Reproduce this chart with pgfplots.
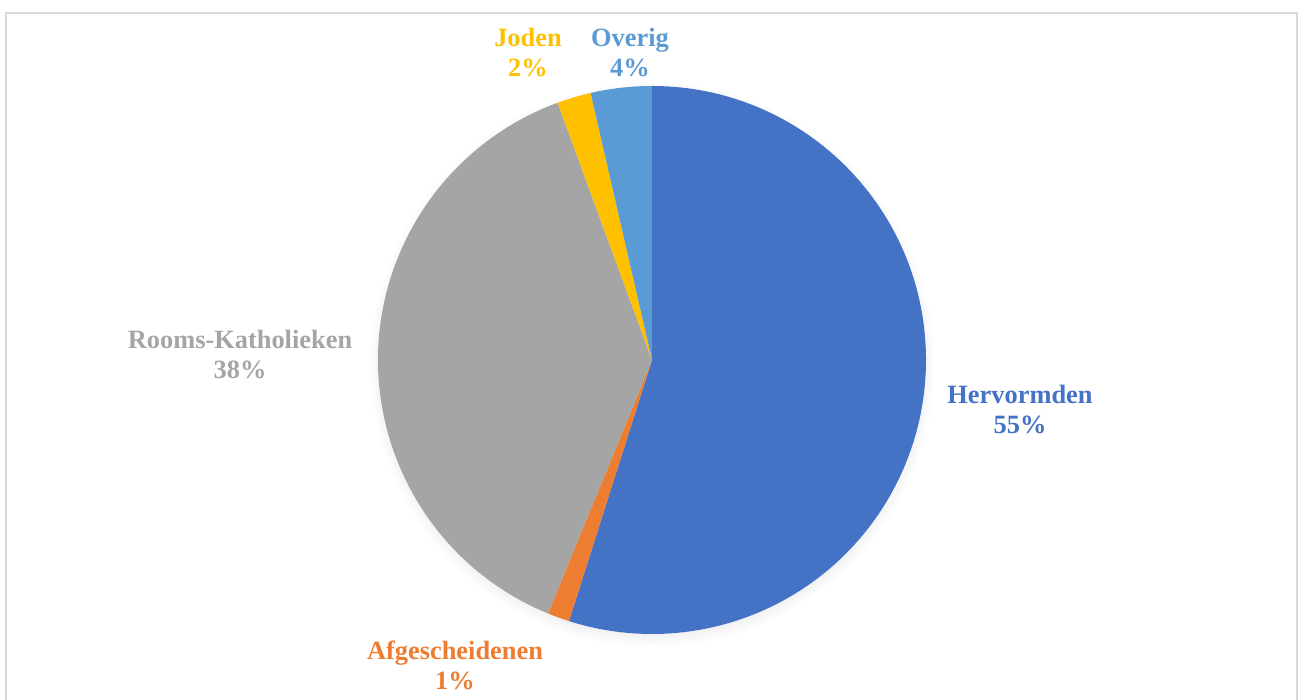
\documentclass[border=0pt]{standalone}
\usepackage{pgfplots}
\pgfplotsset{compat=1.18}
\usepackage{pgfplotstable}
\usepackage{fontspec}
\setmainfont{Liberation Serif}
\usetikzlibrary{shadows}
\definecolor{cHerv}{HTML}{4472C4}
\definecolor{cAfg}{HTML}{ED7D31}
\definecolor{cRK}{HTML}{A5A5A5}
\definecolor{cJod}{HTML}{FFC000}
\definecolor{cOv}{HTML}{5B9BD5}
\definecolor{frameGray}{HTML}{D9D9D9}

% share in percent, clockwise from 12 o'clock; label centre in pixel units
\pgfplotstableread[col sep=comma]{
name,value,color,lx,ly
Hervormden,54.9,cHerv,1020,290
Afgescheidenen,1.3,cAfg,455,35
Rooms-Katholieken,38.2,cRK,240,345
Joden,2.0,cJod,528,647
Overig,3.6,cOv,630,647
}\piedata

\begin{document}
\begin{tikzpicture}
    % slice angles and labels, computed once from the table
    \def\cum{0}
    \pgfplotsforeachungrouped \i in {0,...,4} {%
        \pgfplotstablegetelem{\i}{value}\of\piedata \let\v\pgfplotsretval
        \pgfmathsetmacro\sa{90-3.6*\cum}%
        \pgfmathsetmacro\ea{90-3.6*(\cum+\v)}%
        \pgfmathsetmacro\cum{\cum+\v}%
        \pgfmathtruncatemacro\pc{round(\v)}%
        \expandafter\xdef\csname sa\i\endcsname{\sa}%
        \expandafter\xdef\csname ea\i\endcsname{\ea}%
        \expandafter\xdef\csname pc\i\endcsname{\pc}%
        \pgfplotstablegetelem{\i}{name}\of\piedata
        \expandafter\xdef\csname nm\i\endcsname{\pgfplotsretval}%
        \pgfplotstablegetelem{\i}{color}\of\piedata
        \expandafter\xdef\csname col\i\endcsname{\pgfplotsretval}%
        \pgfplotstablegetelem{\i}{lx}\of\piedata
        \expandafter\xdef\csname lx\i\endcsname{\pgfplotsretval}%
        \pgfplotstablegetelem{\i}{ly}\of\piedata
        \expandafter\xdef\csname ly\i\endcsname{\pgfplotsretval}%
    }
    \begin{axis}[
        hide axis,
        scale only axis,
        width=652pt, height=350pt,
        xmin=0, xmax=1304, ymin=0, ymax=700,
    ]
        % chart frame
        \draw[frameGray, line width=1pt]
            (axis cs:6,0) -- (axis cs:6,687) -- (axis cs:1297,687) -- (axis cs:1297,0);
        % soft shadow under the pie
        \path[circular drop shadow={shadow xshift=0pt, shadow yshift=-2pt,
              shadow scale=1.03, opacity=0.35}, fill=white]
            (axis cs:652,340) circle[radius=137pt];
        \pgfplotsinvokeforeach{0,...,4}{
            \fill[\csname col#1\endcsname]
                (axis cs:652,340)
                -- ([shift={(\csname sa#1\endcsname:137pt)}]axis cs:652,340)
                arc[start angle=\csname sa#1\endcsname,
                    end angle=\csname ea#1\endcsname, radius=137pt]
                -- cycle;
            \node[text=\csname col#1\endcsname, font=\fontsize{13.2}{15}\selectfont\bfseries,
                  align=center, inner sep=0pt]
                at (axis cs:\csname lx#1\endcsname,\csname ly#1\endcsname)
                {\csname nm#1\endcsname\\\csname pc#1\endcsname\%};
        }
    \end{axis}
    \pgfresetboundingbox
    \path (0,0) rectangle (652pt,350pt);
\end{tikzpicture}
\end{document}
